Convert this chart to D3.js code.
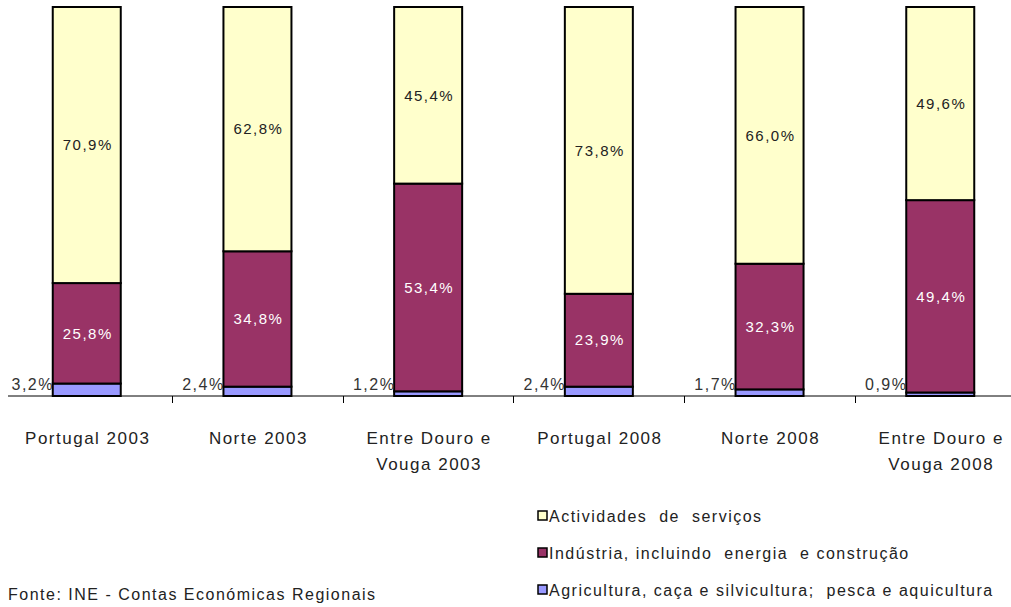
<!DOCTYPE html>
<html>
<head>
<meta charset="utf-8">
<script src="https://cdn.jsdelivr.net/npm/d3@7"></script>
<style>
  body { margin: 0; background: #fff; }
  svg text { font-family: "Liberation Sans", Arial, sans-serif; letter-spacing: 1.5px; }
</style>
</head>
<body>
<svg id="chart" width="1011" height="607"></svg>
<script>
const svg = d3.select("#chart");

// categories (two-line labels)
const categories = ["Portugal 2003", "Norte 2003", "Entre Douro e Vouga 2003",
                    "Portugal 2008", "Norte 2008", "Entre Douro e Vouga 2008"];
const categoryLines = [["Portugal 2003"], ["Norte 2003"], ["Entre Douro e", "Vouga 2003"],
                       ["Portugal 2008"], ["Norte 2008"], ["Entre Douro e", "Vouga 2008"]];

const seriesNames = ["Agricultura, caça e silvicultura;  pesca e aquicultura",
                     "Indústria, incluindo  energia  e construção",
                     "Actividades  de  serviços"];
const agricultura = [3.2, 2.4, 1.2, 2.4, 1.7, 0.9];
const industria   = [25.8, 34.8, 53.4, 23.9, 32.3, 49.4];
const servicos    = [70.9, 62.8, 45.4, 73.8, 66.0, 49.6];

const colors = ["#9999FF", "#993366", "#FFFFCC"];
const labelColors = ["#333", "#fff", "#222"];

const rows = categories.map((c, i) => ({
  cat: c, agr: agricultura[i], ind: industria[i], ser: servicos[i]
}));
const keys = ["agr", "ind", "ser"];
const stacked = d3.stack().keys(keys).offset(d3.stackOffsetExpand)(rows);

const x = d3.scaleBand().domain(categories).range([1.4, 1025.6]);
const y = d3.scaleLinear().domain([0, 1]).range([396, 7]);
const barW = 68;

// axis baseline
svg.append("line")
  .attr("x1", 8).attr("x2", 1011)
  .attr("y1", y(0)).attr("y2", y(0))
  .attr("stroke", "#000").attr("stroke-width", 1);

// ticks between categories
categories.slice(1).forEach(c => {
  svg.append("line")
    .attr("x1", Math.round(x(c)) + 0.5).attr("x2", Math.round(x(c)) + 0.5)
    .attr("y1", y(0)).attr("y2", y(0) + 7)
    .attr("stroke", "#000");
});

// bars
stacked.forEach((layer, li) => {
  svg.append("g").selectAll("rect")
    .data(layer)
    .join("rect")
    .attr("x", d => x(d.data.cat) + x.bandwidth() / 2 - barW / 2)
    .attr("width", barW)
    .attr("y", d => y(d[1]))
    .attr("height", d => y(d[0]) - y(d[1]))
    .attr("fill", colors[li])
    .attr("stroke", "#000")
    .attr("stroke-width", 2);
});

const fmt = v => v.toFixed(1).replace(".", ",") + "%";

// value labels: services and industry centred in segment
stacked.forEach((layer, li) => {
  if (li === 0) return;
  svg.append("g").selectAll("text")
    .data(layer)
    .join("text")
    .attr("x", d => x(d.data.cat) + x.bandwidth() / 2 + 1)
    .attr("y", d => (y(d[0]) + y(d[1])) / 2)
    .attr("dy", "0.35em")
    .attr("text-anchor", "middle")
    .attr("font-size", 15)
    .attr("fill", labelColors[li])
    .text(d => fmt(d.data[keys[li]]));
});

// agriculture labels to the left of the bar
svg.append("g").selectAll("text")
  .data(stacked[0])
  .join("text")
  .attr("x", d => x(d.data.cat) + x.bandwidth() / 2 - 54)
  .attr("y", y(0) - 12)
  .attr("dy", "0.35em")
  .attr("text-anchor", "middle")
  .attr("font-size", 16)
  .attr("fill", "#333")
  .text(d => fmt(d.data.agr));

// category labels
categoryLines.forEach((lines, i) => {
  lines.forEach((t, j) => {
    svg.append("text")
      .attr("x", x(categories[i]) + x.bandwidth() / 2 + 1)
      .attr("y", 438 + j * 26)
      .attr("dy", "0.35em")
      .attr("text-anchor", "middle")
      .attr("font-size", 17)
      .attr("fill", "#222")
      .text(t);
  });
});

// legend (top to bottom: services, industry, agriculture)
const legendOrder = [2, 1, 0];
legendOrder.forEach((si, k) => {
  const ly = 516 + k * 37;
  svg.append("rect")
    .attr("x", 538).attr("y", ly - 5)
    .attr("width", 9).attr("height", 9)
    .attr("fill", colors[si])
    .attr("stroke", "#000").attr("stroke-width", 1.5);
  svg.append("text")
    .attr("x", 549).attr("y", ly)
    .attr("dy", "0.35em")
    .attr("font-size", 16)
    .attr("fill", "#222")
    .style("white-space", "pre")
    .text(seriesNames[si]);
});

// source
svg.append("text")
  .attr("x", 8).attr("y", 594)
  .attr("dy", "0.35em")
  .attr("font-size", 16)
  .attr("fill", "#222")
  .text("Fonte: INE - Contas Económicas Regionais");
</script>
</body>
</html>
